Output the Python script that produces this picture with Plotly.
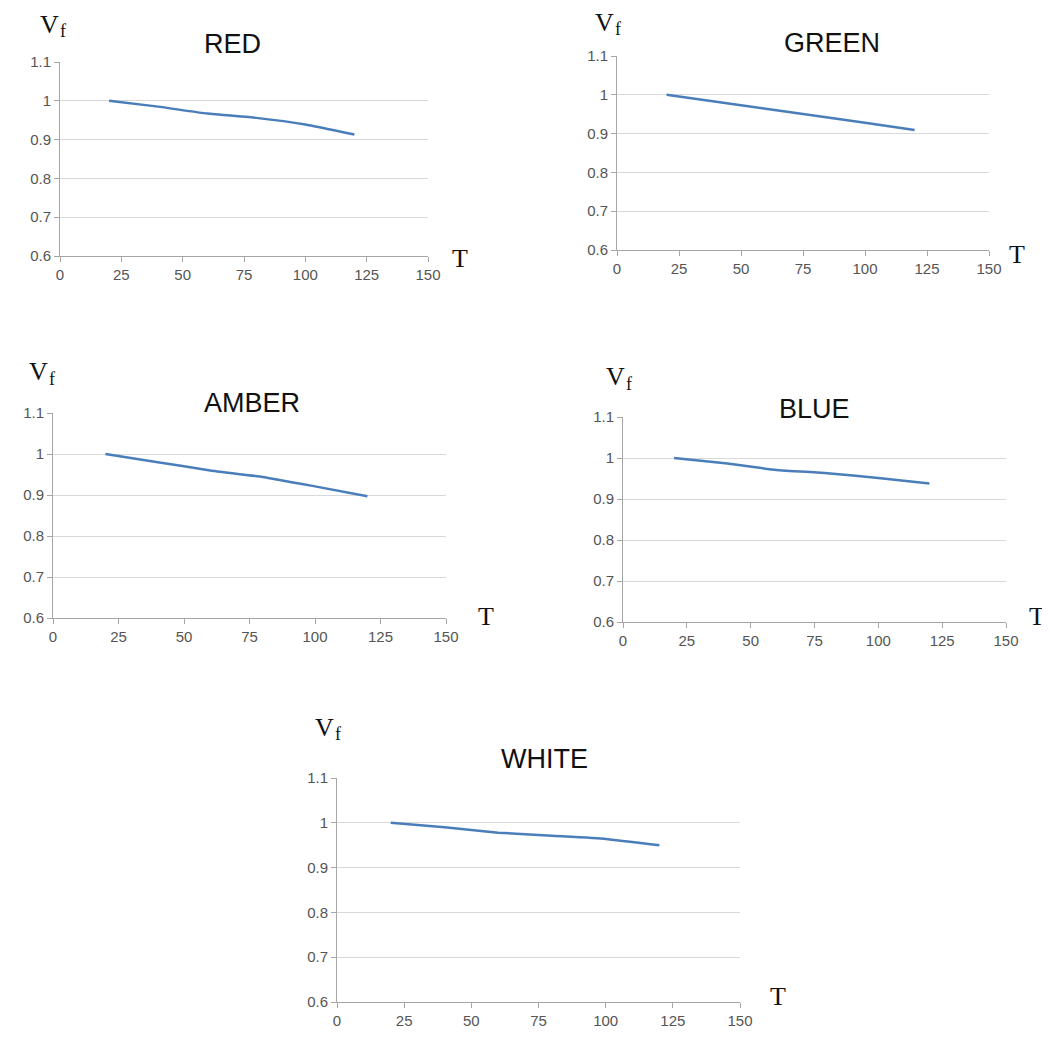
import plotly.graph_objects as go

# ---- data ----
temps = [20, 40, 60, 80, 100, 120]
red_vf = [1.0, 0.985, 0.967, 0.956, 0.939, 0.913]
green_vf = [1.0, 0.982, 0.964, 0.946, 0.928, 0.909]
amber_vf = [1.0, 0.980, 0.960, 0.944, 0.921, 0.897]
blue_vf = [1.0, 0.987, 0.971, 0.963, 0.951, 0.938]
white_vf = [1.0, 0.990, 0.978, 0.971, 0.964, 0.950]

panel_names = ["RED", "GREEN", "AMBER", "BLUE", "WHITE"]
panel_values = [red_vf, green_vf, amber_vf, blue_vf, white_vf]

x_ticks = [0, 25, 50, 75, 100, 125, 150]
x_ticktext = ["0", "25", "50", "75", "100", "125", "150"]
y_ticks = [0.6, 0.7, 0.8, 0.9, 1.0, 1.1]
y_ticktext = ["0.6", "0.7", "0.8", "0.9", "1", "1.1"]

# the page body adds an 8px offset; lay out in window pixels and subtract it
OFF = 8
W, H = 1042, 1032

# plot-area boxes in window pixels: (x0, x1, y_top, y_bottom)
boxes = [
    (60, 428, 62, 256),
    (617, 989, 56, 250),
    (53, 446, 413, 618),
    (623, 1006, 417, 622),
    (337, 740, 778, 1002),
]
title_pos = [(232, 44), (832, 43), (252, 403), (814, 409), (544, 759)]
vf_pos = [(54, 26), (609, 24), (43, 374), (620, 379), (329, 729)]
t_pos = [(460, 258), (1017, 255), (486, 616), (1037, 616), (778, 996)]


def px(x):
    return (x - OFF) / W


def py(y):
    return 1 - (y - OFF) / H


LINE = "#4a7ebb"
GRID = "#d9d9d9"
AXIS = "#a6a6a6"
TICKF = dict(family="Liberation Sans, Arial, sans-serif", size=15, color="#555555")
SERIF = "Liberation Serif, Times New Roman, serif"

fig = go.Figure()
layout = {}
annotations = []

for i, (name, vals) in enumerate(zip(panel_names, panel_values)):
    k = i + 1
    xa = "x" if k == 1 else f"x{k}"
    ya = "y" if k == 1 else f"y{k}"
    fig.add_trace(go.Scatter(x=temps, y=vals, mode="lines", xaxis=xa, yaxis=ya,
                             line=dict(color=LINE, width=2.5, shape="spline", smoothing=0.4),
                             showlegend=False, hoverinfo="x+y"))
    x0, x1, yt, yb = boxes[i]
    xkey = "xaxis" if k == 1 else f"xaxis{k}"
    ykey = "yaxis" if k == 1 else f"yaxis{k}"
    layout[xkey] = dict(domain=[px(x0), px(x1)], anchor=ya, range=[0, 150],
                        tickvals=x_ticks, ticktext=x_ticktext, showgrid=False,
                        zeroline=False, showline=True, linecolor=AXIS, linewidth=1,
                        ticks="outside", ticklen=5, tickcolor=AXIS, tickfont=TICKF,
                        automargin=False, fixedrange=True)
    layout[ykey] = dict(domain=[py(yb), py(yt)], anchor=xa, range=[0.6, 1.1],
                        tickvals=y_ticks, ticktext=y_ticktext, showgrid=True,
                        gridcolor=GRID, gridwidth=1.3, zeroline=False, showline=True,
                        linecolor=AXIS, linewidth=1, ticks="outside", ticklen=5,
                        tickcolor=AXIS, tickfont=TICKF, automargin=False, fixedrange=True)
    tx, ty = title_pos[i]
    annotations.append(dict(text=name, x=px(tx), y=py(ty), xref="paper", yref="paper",
                            showarrow=False, xanchor="center", yanchor="middle",
                            font=dict(family="Liberation Sans, Arial, sans-serif", size=27,
                                      color="#111111")))
    vx, vy = vf_pos[i]
    # "V" with subscript "f"
    annotations.append(dict(text="V", x=px(vx - 5), y=py(vy - 2), xref="paper",
                            yref="paper", showarrow=False, xanchor="center", yanchor="middle",
                            font=dict(family=SERIF, size=26, color="#111111")))
    annotations.append(dict(text="f", x=px(vx + 9), y=py(vy + 5), xref="paper",
                            yref="paper", showarrow=False, xanchor="center", yanchor="middle",
                            font=dict(family=SERIF, size=18, color="#111111")))
    tx2, ty2 = t_pos[i]
    annotations.append(dict(text="T", x=px(tx2), y=py(ty2), xref="paper", yref="paper",
                            showarrow=False, xanchor="center", yanchor="middle",
                            font=dict(family=SERIF, size=26, color="#111111")))

fig.update_layout(width=W, height=H, margin=dict(l=0, r=0, t=0, b=0),
                  paper_bgcolor="white", plot_bgcolor="white",
                  annotations=annotations, **layout)

fig.write_html("out.html")
